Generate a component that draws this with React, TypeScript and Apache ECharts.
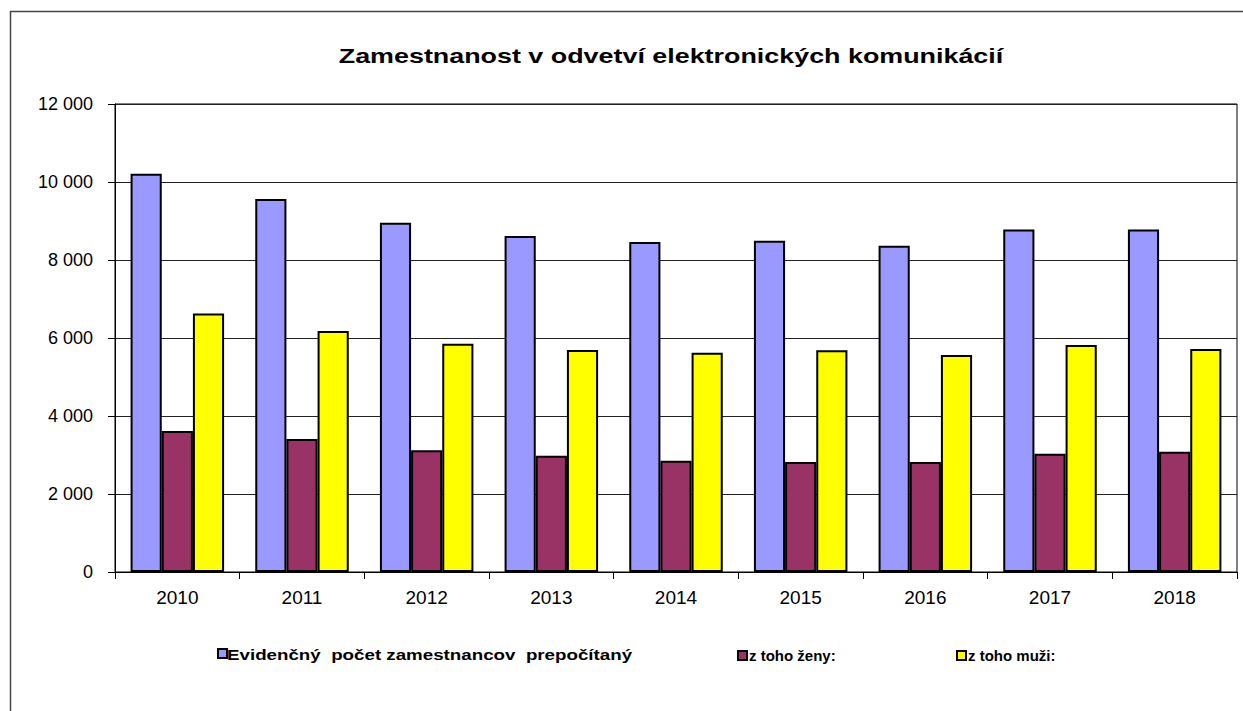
import React, { useEffect, useRef } from "react";
import * as echarts from "echarts";

const titleText = "Zamestnanost v odvetví elektronických komunikácií";
const years = ["2010", "2011", "2012", "2013", "2014", "2015", "2016", "2017", "2018"];
const seriesNames = ["Evidenčný  počet zamestnancov  prepočítaný", "z toho ženy:", "z toho muži:"];
const totalValues = [10210, 9565, 8955, 8615, 8460, 8495, 8365, 8785, 8785];
const womenValues = [3615, 3410, 3120, 2980, 2855, 2820, 2820, 3035, 3085];
const menValues = [6630, 6180, 5855, 5690, 5625, 5685, 5565, 5820, 5720];
const colors = ["#9999FF", "#993366", "#FFFF00"];

const fontFamily = "Arial, 'Liberation Sans', sans-serif";

export default function App() {
  const ref = useRef<HTMLDivElement>(null);
  useEffect(() => {
    if (!ref.current) return;
    const chart = echarts.init(ref.current, null, { renderer: "svg" });
    const data = [totalValues, womenValues, menValues];
    const legendLefts = [212, 732, 951];
    chart.setOption({
      animation: false,
      backgroundColor: "#fff",
      graphic: [
        {
          type: "rect",
          shape: { x: 10.5, y: 11.5, width: 1240, height: 710 },
          style: { fill: "none", stroke: "#444", lineWidth: 1.5 },
          silent: true,
        },
        {
          type: "text",
          x: 671,
          y: 56,
          scaleX: 1.28,
          style: {
            text: titleText,
            font: `bold 21px ${fontFamily}`,
            fill: "#000",
            textAlign: "center",
            textVerticalAlign: "middle",
          },
          silent: true,
        },
        {
          type: "text",
          x: 227,
          y: 655,
          scaleX: 1.25,
          style: {
            text: seriesNames[0],
            font: `bold 15px ${fontFamily}`,
            fill: "#000",
            textAlign: "left",
            textVerticalAlign: "middle",
          },
          silent: true,
        },
      ],
      legend: seriesNames.map((name, i) => ({
        data: [name],
        left: legendLefts[i],
        top: 643,
        itemWidth: 9,
        itemHeight: 9,
        icon: "rect",
        formatter: i === 0 ? () => "" : undefined,
        textStyle: { fontFamily, fontSize: 15, fontWeight: "bold", color: "#000", padding: [0, 0, 0, -3] },
      })),
      grid: { left: 115, right: 6, top: 104, bottom: 139, show: true, borderColor: "#000", borderWidth: 1 },
      xAxis: {
        type: "category",
        data: years,
        axisLine: { lineStyle: { color: "#000", width: 1 } },
        axisTick: { show: true, alignWithLabel: false, length: 7, lineStyle: { color: "#000" } },
        axisLabel: { fontFamily, fontSize: 19, color: "#000", margin: 16 },
        splitLine: { show: false },
      },
      yAxis: {
        type: "value",
        min: 0,
        max: 12000,
        interval: 2000,
        axisLine: { show: true, lineStyle: { color: "#000", width: 1 } },
        axisTick: { show: true, length: 7, lineStyle: { color: "#000" } },
        axisLabel: {
          fontFamily,
          fontSize: 18,
          color: "#000",
          margin: 22,
          formatter: (v: number) => String(v).replace(/\B(?=(\d{3})+(?!\d))/g, " "),
        },
        splitLine: { show: true, lineStyle: { color: "#222", width: 1 } },
      },
      series: seriesNames.map((name, i) => ({
        name,
        type: "bar",
        data: data[i],
        barGap: "0%",
        barCategoryGap: "25%",
        itemStyle: { color: colors[i], borderColor: "#000", borderWidth: 2 },
      })),
    });
    return () => chart.dispose();
  }, []);
  return (
    <div
      ref={ref}
      style={{ position: "fixed", left: 0, top: 0, width: 1243, height: 711, background: "#fff" }}
    />
  );
}
